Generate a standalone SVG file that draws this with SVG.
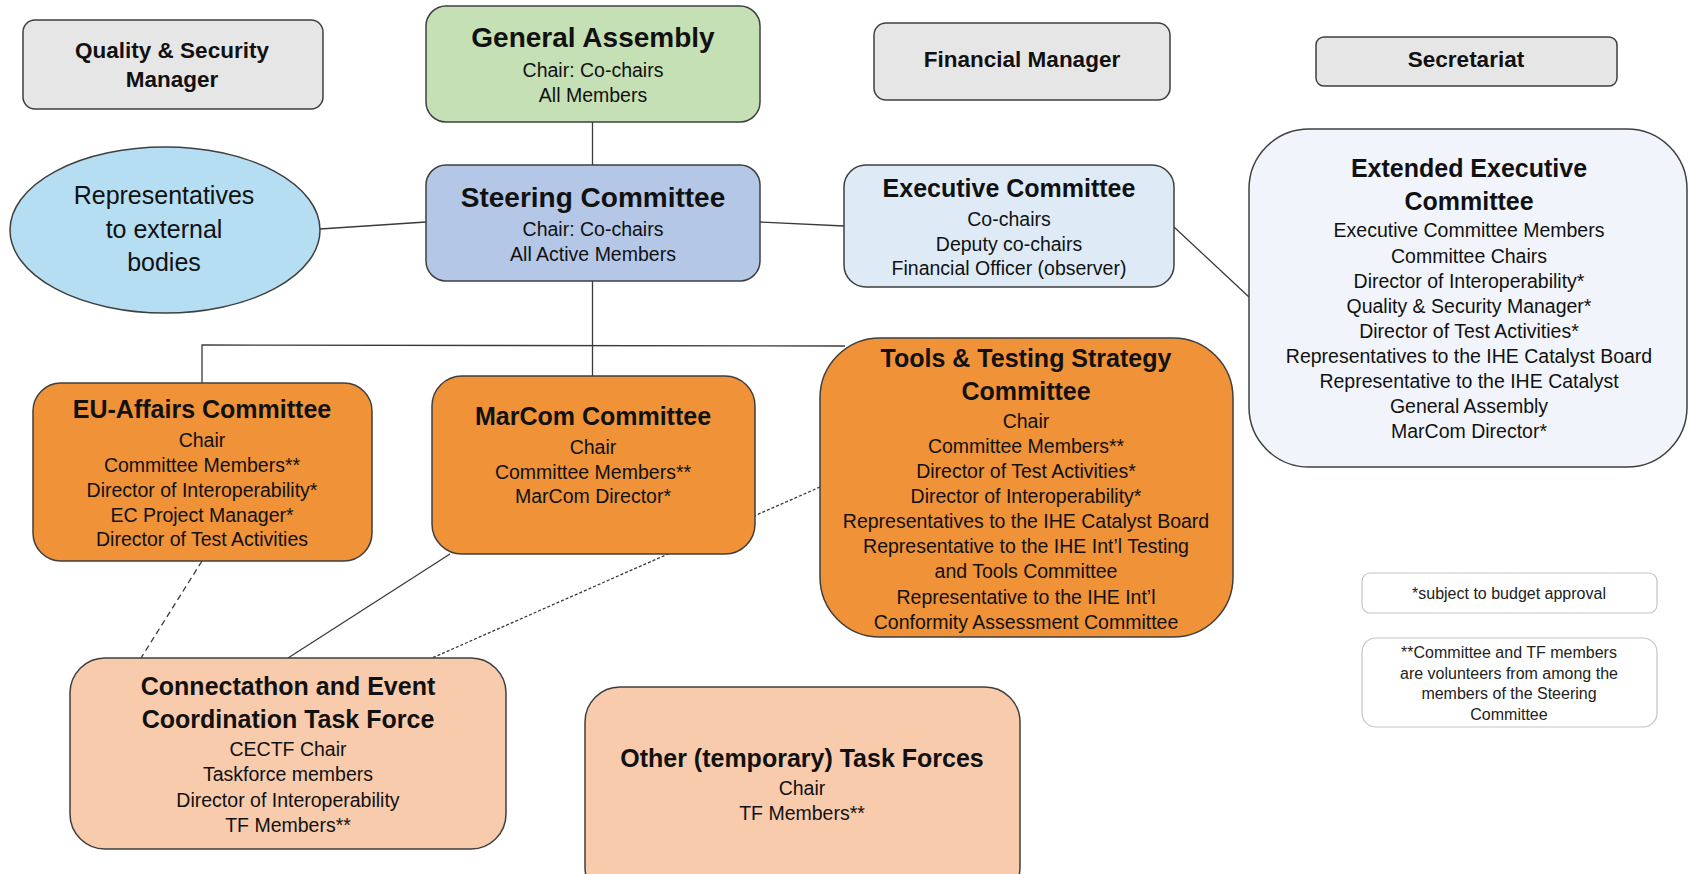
<svg xmlns="http://www.w3.org/2000/svg" width="1689" height="874" viewBox="0 0 1689 874">
<defs>
<style>
text{font-family:"Liberation Sans",Arial,sans-serif;fill:#111;text-anchor:middle}
.t{font-weight:bold;font-size:25px}
.tl{font-weight:bold;font-size:28px}
.tg{font-weight:bold;font-size:22.5px}
.s{font-size:19.5px}
.e{font-size:25px}
.l{font-size:16px;fill:#222}
.box{stroke:#3f3f3f;stroke-width:1.5}
.grey{fill:#E7E6E6}
.orange{fill:#EF9238}
.peach{fill:#F8CBAD}
.leg{fill:#fff;stroke:#c4c4c4;stroke-width:1.2}
.c{stroke:#3a3a3a;stroke-width:1.3;fill:none}
.d1{stroke-dasharray:6 4}
.d2{stroke-dasharray:3 2}
</style>
</defs>
<rect width="1689" height="874" fill="#fff"/>
<g id="connectors">
<line class="c" x1="592.5" y1="122" x2="592.5" y2="165"/>
<line class="c" x1="320" y1="229" x2="426" y2="222"/>
<line class="c" x1="760" y1="222" x2="844" y2="226"/>
<line class="c" x1="1174" y1="227" x2="1249" y2="297"/>
<line class="c" x1="592.5" y1="281" x2="592.5" y2="376"/>
<polyline class="c" points="202,383 202,345 845,346"/>
<line class="c d1" x1="202" y1="561" x2="141" y2="658"/>
<line class="c" x1="450" y1="554" x2="288" y2="658"/>
<line class="c d2" x1="820" y1="487" x2="432" y2="658"/>
</g>
<g id="quality">
<rect class="box grey" x="23" y="20" width="300" height="89" rx="12"/>
<text class="tg" x="172" y="57.5">Quality &amp; Security</text>
<text class="tg" x="172" y="87">Manager</text>
</g>
<g id="general-assembly">
<rect class="box" fill="#C5E0B4" x="426" y="6" width="334" height="116" rx="20"/>
<text class="tl" x="593" y="47">General Assembly</text>
<text class="s" x="593" y="77">Chair: Co-chairs</text>
<text class="s" x="593" y="102">All Members</text>
</g>
<g id="steering-committee">
<rect class="box" fill="#B4C7E7" x="426" y="165" width="334" height="116" rx="20"/>
<text class="tl" x="593" y="207">Steering Committee</text>
<text class="s" x="593" y="236">Chair: Co-chairs</text>
<text class="s" x="593" y="261">All Active Members</text>
</g>
<g id="representatives">
<ellipse class="box" fill="#B5DEF3" cx="165" cy="230" rx="155" ry="83"/>
<text class="e" x="164" y="204">Representatives</text>
<text class="e" x="164" y="238">to external</text>
<text class="e" x="164" y="271">bodies</text>
</g>
<g id="financial-manager">
<rect class="box grey" x="874" y="23" width="296" height="77" rx="12"/>
<text class="tg" x="1022" y="67">Financial Manager</text>
</g>
<g id="secretariat">
<rect class="box grey" x="1316" y="37" width="301" height="49" rx="8"/>
<text class="tg" x="1466" y="67">Secretariat</text>
</g>
<g id="executive-committee">
<rect class="box" fill="#DEEBF7" x="844" y="165" width="330" height="122" rx="22"/>
<text class="t" x="1009" y="197">Executive Committee</text>
<text class="s" x="1009" y="226">Co-chairs</text>
<text class="s" x="1009" y="251">Deputy co-chairs</text>
<text class="s" x="1009" y="275">Financial Officer (observer)</text>
</g>
<g id="extended-executive-committee">
<rect class="box" fill="#F1F5FB" x="1249" y="129" width="438" height="338" rx="60"/>
<text class="t" x="1469" y="177">Extended Executive</text>
<text class="t" x="1469" y="210">Committee</text>
<text class="s" x="1469" y="237">Executive Committee Members</text>
<text class="s" x="1469" y="263">Committee Chairs</text>
<text class="s" x="1469" y="288">Director of Interoperability*</text>
<text class="s" x="1469" y="313">Quality &amp; Security Manager*</text>
<text class="s" x="1469" y="338">Director of Test Activities*</text>
<text class="s" x="1469" y="363">Representatives to the IHE Catalyst Board</text>
<text class="s" x="1469" y="388">Representative to the IHE Catalyst</text>
<text class="s" x="1469" y="413">General Assembly</text>
<text class="s" x="1469" y="438">MarCom Director*</text>
</g>
<g id="eu-affairs">
<rect class="box orange" x="33" y="383" width="339" height="178" rx="28"/>
<text class="t" x="202" y="418">EU-Affairs Committee</text>
<text class="s" x="202" y="447">Chair</text>
<text class="s" x="202" y="472">Committee Members**</text>
<text class="s" x="202" y="497">Director of Interoperability*</text>
<text class="s" x="202" y="522">EC Project Manager*</text>
<text class="s" x="202" y="546">Director of Test Activities</text>
</g>
<g id="marcom">
<rect class="box orange" x="432" y="376" width="323" height="178" rx="30"/>
<text class="t" x="593" y="425">MarCom Committee</text>
<text class="s" x="593" y="454">Chair</text>
<text class="s" x="593" y="479">Committee Members**</text>
<text class="s" x="593" y="503">MarCom Director*</text>
</g>
<g id="tools-testing">
<rect class="box orange" x="820" y="338" width="413" height="299" rx="60"/>
<text class="t" x="1026" y="367">Tools &amp; Testing Strategy</text>
<text class="t" x="1026" y="400">Committee</text>
<text class="s" x="1026" y="428">Chair</text>
<text class="s" x="1026" y="453">Committee Members**</text>
<text class="s" x="1026" y="478">Director of Test Activities*</text>
<text class="s" x="1026" y="503">Director of Interoperability*</text>
<text class="s" x="1026" y="528">Representatives to the IHE Catalyst Board</text>
<text class="s" x="1026" y="553">Representative to the IHE Int’l Testing</text>
<text class="s" x="1026" y="578">and Tools Committee</text>
<text class="s" x="1026" y="604">Representative to the IHE Int’l</text>
<text class="s" x="1026" y="629">Conformity Assessment Committee</text>
</g>
<g id="connectathon">
<rect class="box peach" x="70" y="658" width="436" height="191" rx="35"/>
<text class="t" x="288" y="695">Connectathon and Event</text>
<text class="t" x="288" y="728">Coordination Task Force</text>
<text class="s" x="288" y="756">CECTF Chair</text>
<text class="s" x="288" y="781">Taskforce members</text>
<text class="s" x="288" y="807">Director of Interoperability</text>
<text class="s" x="288" y="832">TF Members**</text>
</g>
<g id="other-task-forces">
<rect class="box peach" x="585" y="687" width="435" height="215" rx="35"/>
<text class="t" x="802" y="767">Other (temporary) Task Forces</text>
<text class="s" x="802" y="795">Chair</text>
<text class="s" x="802" y="820">TF Members**</text>
</g>
<g id="legend-budget">
<rect class="leg" x="1362" y="573" width="295" height="40" rx="8"/>
<text class="l" x="1509" y="599">*subject to budget approval</text>
</g>
<g id="legend-members">
<rect class="leg" x="1362" y="638" width="295" height="89" rx="14"/>
<text class="l" x="1509" y="658">**Committee and TF members</text>
<text class="l" x="1509" y="678.5">are volunteers from among the</text>
<text class="l" x="1509" y="699">members of the Steering</text>
<text class="l" x="1509" y="719.5">Committee</text>
</g>
</svg>
